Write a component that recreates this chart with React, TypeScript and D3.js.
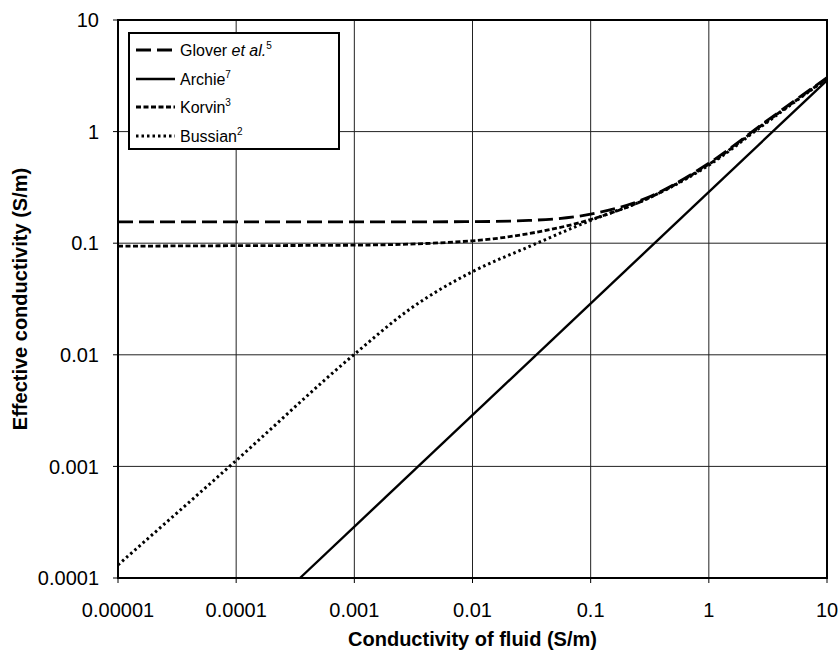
import React from "react";
import * as d3 from "d3";

const gloverX = [1e-5, 1e-4, 1e-3, 0.01, 0.03, 0.1, 0.3, 1, 3, 10];
const gloverValues = [0.155, 0.155, 0.155, 0.156, 0.16, 0.182, 0.255, 0.52, 1.22, 3.05];
const korvinX = [1e-5, 1e-4, 1e-3, 0.01, 0.03, 0.1, 0.3, 1, 3, 10];
const korvinValues = [0.094, 0.095, 0.096, 0.105, 0.122, 0.163, 0.25, 0.51, 1.2, 3.0];
const bussianX = [1e-5, 1e-4, 1e-3, 3e-3, 0.01, 0.03, 0.1, 0.3, 1, 3, 10];
const bussianValues = [0.000131, 0.00113, 0.0101, 0.026, 0.0556, 0.093, 0.16, 0.25, 0.5, 1.18, 3.0];
const archieX = [0.000347, 10];
const archieValues = [0.0001, 2.88];

const xTicks = [0.00001, 0.0001, 0.001, 0.01, 0.1, 1, 10];
const xTickLabels = ["0.00001", "0.0001", "0.001", "0.01", "0.1", "1", "10"];
const yTicks = [0.0001, 0.001, 0.01, 0.1, 1, 10];
const yTickLabels = ["0.0001", "0.001", "0.01", "0.1", "1", "10"];

const W = 839;
const H = 657;
const left = 118, right = 827, top = 20, bottom = 578;
const FONT = "'Liberation Sans', Arial, Helvetica, sans-serif";

export default function App() {
  const x = d3.scaleLog().domain([1e-5, 10]).range([left, right]);
  const y = d3.scaleLog().domain([1e-4, 10]).range([bottom, top]);

  const line = d3
    .line<[number, number]>()
    .x((d) => x(d[0]))
    .y((d) => y(d[1]))
    .curve(d3.curveMonotoneX);

  const pts = (xs: number[], ys: number[]) => xs.map((v, i) => [v, ys[i]] as [number, number]);

  const series = [
    { name: "glover", d: line(pts(gloverX, gloverValues)), dash: "15,6", w: 2.8 },
    { name: "archie", d: line(pts(archieX, archieValues)), dash: "none", w: 2.4 },
    { name: "korvin", d: line(pts(korvinX, korvinValues)), dash: "5,2.5", w: 2.8 },
    { name: "bussian", d: line(pts(bussianX, bussianValues)), dash: "2.5,3", w: 3 },
  ];

  const legendItems = [
    { dash: "15,6", w: 2.8, label: "Glover ", italic: "et al.", sup: "5", ly: 50, ty: 56 },
    { dash: "none", w: 2.4, label: "Archie", italic: "", sup: "7", ly: 79, ty: 85 },
    { dash: "5,2.5", w: 2.8, label: "Korvin", italic: "", sup: "3", ly: 107, ty: 113 },
    { dash: "2.5,3", w: 3, label: "Bussian", italic: "", sup: "2", ly: 136, ty: 142 },
  ];

  return (
    <svg
      width={W}
      height={H}
      style={{ position: "absolute", left: 0, top: 0, background: "#fff" }}
      fontFamily={FONT}
    >
      <rect x={0} y={0} width={W} height={H} fill="#fff" />
      {xTicks.map((t) => (
        <line key={"gx" + t} x1={x(t)} x2={x(t)} y1={top} y2={bottom} stroke="#222" strokeWidth={1} />
      ))}
      {yTicks.map((t) => (
        <line key={"gy" + t} x1={left} x2={right} y1={y(t)} y2={y(t)} stroke="#222" strokeWidth={1} />
      ))}
      {xTicks.map((t) => (
        <line key={"tx" + t} x1={x(t)} x2={x(t)} y1={bottom} y2={bottom + 5} stroke="#000" strokeWidth={1} />
      ))}
      {yTicks.map((t) => (
        <line key={"ty" + t} x1={left - 5} x2={left} y1={y(t)} y2={y(t)} stroke="#000" strokeWidth={1} />
      ))}
      <g fill="none" stroke="#000">
        {series.map((s) => (
          <path key={s.name} d={s.d || ""} strokeWidth={s.w} strokeDasharray={s.dash} />
        ))}
      </g>
      <rect x={left} y={top} width={right - left} height={bottom - top} fill="none" stroke="#000" strokeWidth={2} />
      {xTicks.map((t, i) => (
        <text key={"lx" + t} x={x(t)} y={617} textAnchor="middle" fontSize={20} fill="#000">
          {xTickLabels[i]}
        </text>
      ))}
      {yTicks.map((t, i) => (
        <text key={"ly" + t} x={99} y={y(t)} dy="0.36em" textAnchor="end" fontSize={20} fill="#000">
          {yTickLabels[i]}
        </text>
      ))}
      <text x={(left + right) / 2} y={646} textAnchor="middle" fontSize={20} fontWeight="bold" fill="#000">
        Conductivity of fluid (S/m)
      </text>
      <text
        transform={`translate(27,${(top + bottom) / 2}) rotate(-90)`}
        textAnchor="middle"
        fontSize={20}
        fontWeight="bold"
        fill="#000"
      >
        Effective conductivity (S/m)
      </text>
      <rect x={129} y={33} width={210} height={116} fill="#fff" stroke="#000" strokeWidth={2} />
      {legendItems.map((it) => (
        <g key={it.label}>
          <line x1={136} x2={175} y1={it.ly} y2={it.ly} stroke="#000" strokeWidth={it.w} strokeDasharray={it.dash} />
          <text x={180} y={it.ty} fontSize={16} fill="#000">
            {it.label}
            {it.italic ? <tspan fontStyle="italic">{it.italic}</tspan> : null}
            <tspan fontSize={10} dy={-7}>{it.sup}</tspan>
          </text>
        </g>
      ))}
    </svg>
  );
}
